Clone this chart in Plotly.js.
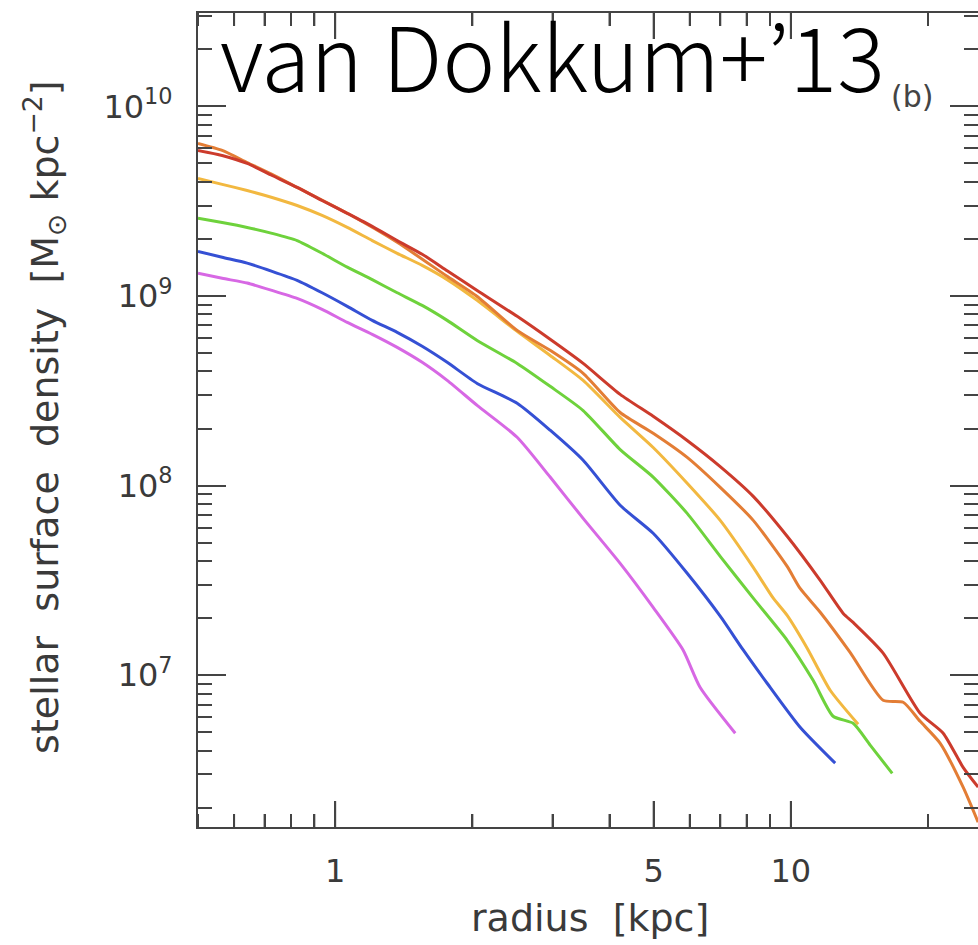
<!DOCTYPE html>
<html>
<head>
<meta charset="utf-8">
<script src="https://cdn.plot.ly/plotly-3.0.1.min.js"></script>
<style>html,body{margin:0;padding:0;background:#fff;overflow:hidden;}</style>
</head>
<body>
<div id="chart" style="width:978px;height:945px;"></div>
<script>
// radius [kpc] and stellar surface density [Msun kpc^-2] for each profile
var rRed = [0.50,0.565,0.641,0.727,0.825,0.936,1.063,1.206,1.368,1.552,1.761,2.049,2.508,2.963,3.501,4.221,4.987,5.922,6.998,8.269,9.815,11.60,13.03,13.70,15.94,19.22,21.59,23.88,25.76];
var sRed = [5.86e9,5.51e9,5.00e9,4.32e9,3.74e9,3.19e9,2.73e9,2.33e9,1.96e9,1.66e9,1.36e9,1.07e9,7.81e8,5.91e8,4.41e8,3.03e8,2.32e8,1.73e8,1.26e8,8.78e7,5.41e7,3.17e7,2.12e7,1.90e7,1.31e7,6.31e6,4.95e6,3.27e6,2.57e6];

var rOrange = [0.50,0.565,0.641,0.727,0.825,1.063,1.368,1.761,2.049,2.508,2.963,3.501,4.221,4.987,5.922,6.998,8.269,9.815,10.48,11.60,13.49,15.94,17.64,19.22,21.27,23.88,25.76];
var sOrange = [6.38e9,5.86e9,5.06e9,4.38e9,3.74e9,2.73e9,1.92e9,1.27e9,9.95e8,6.59e8,5.17e8,3.91e8,2.43e8,1.89e8,1.41e8,9.80e7,6.56e7,3.75e7,2.87e7,2.15e7,1.32e7,7.38e6,7.21e6,5.72e6,4.38e6,2.57e6,1.68e6];

var rGold = [0.50,0.565,0.641,0.727,0.825,0.936,1.063,1.206,1.368,1.552,1.761,2.049,2.508,2.963,3.501,4.221,4.987,5.922,6.998,8.269,9.15,9.815,10.86,12.20,14.05];
var sGold = [4.17e9,3.88e9,3.60e9,3.31e9,3.00e9,2.66e9,2.30e9,1.96e9,1.68e9,1.45e9,1.22e9,9.48e8,6.51e8,4.86e8,3.59e8,2.29e8,1.59e8,1.03e8,6.56e7,3.71e7,2.55e7,2.07e7,1.39e7,8.34e6,5.52e6];

var rGreen = [0.50,0.565,0.641,0.727,0.825,0.936,1.063,1.206,1.368,1.552,1.761,2.049,2.508,2.963,3.501,4.221,4.987,5.922,6.998,8.269,9.815,11.19,12.38,13.70,14.93,16.69];
var sGreen = [2.57e9,2.44e9,2.30e9,2.14e9,1.96e9,1.68e9,1.42e9,1.22e9,1.04e9,8.92e8,7.44e8,5.83e8,4.41e8,3.34e8,2.49e8,1.55e8,1.11e8,7.14e7,4.24e7,2.55e7,1.53e7,9.41e6,6.08e6,5.58e6,4.28e6,3.04e6];

var rBlue = [0.50,0.565,0.641,0.727,0.825,0.936,1.063,1.206,1.368,1.552,1.761,2.049,2.508,2.963,3.501,4.221,4.987,5.922,6.998,7.86,8.87,10.48,12.51];
var sBlue = [1.72e9,1.60e9,1.49e9,1.35e9,1.21e9,1.04e9,8.82e8,7.44e8,6.43e8,5.43e8,4.47e8,3.46e8,2.72e8,1.96e8,1.36e8,7.88e7,5.61e7,3.45e7,2.05e7,1.36e7,9.08e6,5.32e6,3.44e6];

var rMagenta = [0.50,0.565,0.641,0.727,0.825,0.936,1.063,1.206,1.368,1.552,1.761,2.049,2.508,2.963,3.501,4.221,4.987,5.80,6.32,7.55];
var sMagenta = [1.32e9,1.24e9,1.17e9,1.07e9,9.71e8,8.50e8,7.26e8,6.28e8,5.36e8,4.47e8,3.59e8,2.65e8,1.80e8,1.11e8,6.72e7,3.89e7,2.28e7,1.36e7,8.65e6,4.95e6];

var xTickVals = [1, 5, 10];
var xTickText = ['1', '5', '10'];
var yTickVals = [1e7, 1e8, 1e9, 1e10];
var yTickText = ['10<sup>7</sup>', '10<sup>8</sup>', '10<sup>9</sup>', '10<sup>10</sup>'];

var seriesList = [
  {x: rMagenta, y: sMagenta, color: '#d768e4'},
  {x: rBlue, y: sBlue, color: '#3550d4'},
  {x: rGreen, y: sGreen, color: '#6ed23c'},
  {x: rGold, y: sGold, color: '#f2b840'},
  {x: rOrange, y: sOrange, color: '#e37d35'},
  {x: rRed, y: sRed, color: '#cc3b2c'}
];

var traces = seriesList.map(function (s) {
  return {x: s.x, y: s.y, type: 'scatter', mode: 'lines',
          line: {color: s.color, width: 3, shape: 'spline', smoothing: 0.6},
          hoverinfo: 'skip', showlegend: false};
});
traces.push({x: [], y: [], xaxis: 'x2', yaxis: 'y2', type: 'scatter', mode: 'lines', hoverinfo: 'skip', showlegend: false});
traces.push({x: [], y: [], xaxis: 'x3', yaxis: 'y3', type: 'scatter', mode: 'lines', hoverinfo: 'skip', showlegend: false});

var xMinor = [];
[0.1, 1, 10].forEach(function (d) { for (var k = 2; k <= 9; k++) { var v = k * d; if (v !== 5 && v >= 0.5) xMinor.push(v); } });
var yMinor = [];
[1e6, 1e7, 1e8, 1e9, 1e10].forEach(function (d) { for (var k = 2; k <= 9; k++) yMinor.push(k * d); });

var axisColor = '#444';
var X0 = Math.log10(0.5), X1 = 1.4107;
function tf() { return {family: 'DejaVu Sans', size: 32, color: '#3a3a3a'}; }
function xr() { return [X0, X1]; }
function yr() { return [6.2, 10.4924]; }

// x-axis tick marks (bottom and mirrored top) as paper-referenced shapes
var plotH = 945 - 12.5 - 118.3;
var tickShapes = [];
function addXTicks(vals, len) {
  vals.forEach(function (v) {
    var lv = Math.log10(v);
    if (lv < X0 || lv > X1) return;
    var px = (lv - X0) / (X1 - X0);
    var f = len / plotH;
    tickShapes.push({type: 'line', xref: 'paper', yref: 'paper', x0: px, x1: px, y0: 0, y1: f,
                     line: {color: axisColor, width: 2}, layer: 'above'});
    tickShapes.push({type: 'line', xref: 'paper', yref: 'paper', x0: px, x1: px, y0: 1, y1: 1 - f,
                     line: {color: axisColor, width: 2}, layer: 'above'});
  });
}
addXTicks(xTickVals, 26);
addXTicks(xMinor, 13);

var layout = {
  width: 978, height: 945,
  margin: {l: 198, r: 0, t: 12.5, b: 118.3, pad: 0},
  showlegend: false,
  xaxis: {
    type: 'log', range: xr(), showgrid: false, zeroline: false,
    showline: true, linecolor: axisColor, linewidth: 2, mirror: 'ticks',
    ticks: 'inside', ticklen: 26, tickwidth: 2, tickcolor: axisColor,
    tickmode: 'array', tickvals: xTickVals, showticklabels: false
  },
  yaxis: {
    type: 'log', range: yr(), showgrid: false, zeroline: false,
    showline: true, linecolor: axisColor, linewidth: 2, mirror: 'ticks',
    ticks: 'inside', ticklen: 28, tickwidth: 2, tickcolor: axisColor,
    tickmode: 'array', tickvals: yTickVals, showticklabels: false
  },
  xaxis2: {
    type: 'log', range: xr(), overlaying: 'x', anchor: 'y2', side: 'bottom',
    showgrid: false, zeroline: false, showline: false, mirror: 'ticks',
    ticks: 'inside', ticklen: 13, tickwidth: 2, tickcolor: axisColor,
    tickmode: 'array', tickvals: xMinor, showticklabels: false
  },
  yaxis2: {
    type: 'log', range: yr(), overlaying: 'y', anchor: 'x2', side: 'left',
    showgrid: false, zeroline: false, showline: false, mirror: 'ticks',
    ticks: 'inside', ticklen: 14, tickwidth: 2, tickcolor: axisColor,
    tickmode: 'array', tickvals: yMinor, showticklabels: false
  },
  xaxis3: {
    type: 'log', range: xr(), overlaying: 'x', anchor: 'y3', side: 'bottom',
    showgrid: false, zeroline: false, showline: false,
    ticks: 'outside', ticklen: 16, tickwidth: 1, tickcolor: 'rgba(0,0,0,0)',
    tickmode: 'array', tickvals: xTickVals, ticktext: xTickText, tickfont: tf()
  },
  yaxis3: {
    type: 'log', range: yr(), overlaying: 'y', anchor: 'x3', side: 'left',
    showgrid: false, zeroline: false, showline: false,
    ticks: 'outside', ticklen: 18, tickwidth: 1, tickcolor: 'rgba(0,0,0,0)',
    tickmode: 'array', tickvals: yTickVals, ticktext: yTickText, tickfont: tf()
  },
  shapes: tickShapes,
  annotations: [
    {text: 'radius  [kpc]', xref: 'paper', yref: 'paper', x: 0.503, y: -0.112,
     xanchor: 'center', yanchor: 'middle', showarrow: false,
     font: {family: 'DejaVu Sans', size: 38, color: '#3a3a3a'}},
    {text: 'stellar  surface  density  [M<sub>⊙</sub> kpc<sup>−2</sup>]', xref: 'paper', yref: 'paper',
     x: -0.197, y: 0.503, xanchor: 'center', yanchor: 'middle', textangle: -90, showarrow: false,
     font: {family: 'DejaVu Sans', size: 38, color: '#3a3a3a'}},
    {text: 'van Dokkum+’13', xref: 'paper', yref: 'paper', x: 0.026, y: 0.950,
     xanchor: 'left', yanchor: 'middle', showarrow: false,
     font: {family: 'Noto Sans CJK JP', size: 89, weight: 300, color: '#000'}},
    {text: '(b)', xref: 'paper', yref: 'paper', x: 0.916, y: 0.897,
     xanchor: 'center', yanchor: 'middle', showarrow: false,
     font: {family: 'DejaVu Sans', size: 30, color: '#444'}}
  ]
};

Plotly.newPlot('chart', traces, layout, {displayModeBar: false, staticPlot: true});
</script>
</body>
</html>
